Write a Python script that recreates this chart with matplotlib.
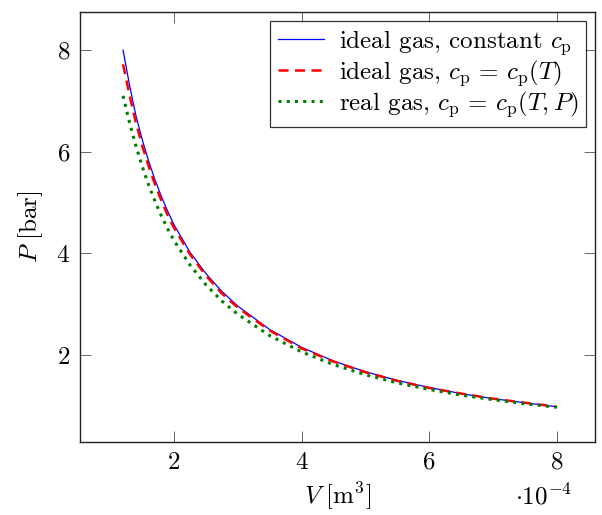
import matplotlib
matplotlib.use("Agg")
from matplotlib import pyplot as plt

plt.rcParams['mathtext.fontset'] = 'cm'
plt.rcParams['font.family'] = ['cmr10', 'DejaVu Serif']
plt.rcParams['axes.unicode_minus'] = False

# volume in units of 1e-4 m^3
V = [1.2, 1.3, 1.4, 1.5, 1.6, 1.7, 1.8, 1.9, 2.0, 2.25, 2.5, 2.75, 3.0,
     3.5, 4.0, 4.5, 5.0, 5.5, 6.0, 6.5, 7.0, 7.5, 8.0]

# pressure [bar]
P_ideal_const = [8.00, 7.32, 6.72, 6.24, 5.82, 5.45, 5.12, 4.83, 4.56, 4.02, 3.60, 3.25, 2.96,
                 2.50, 2.15, 1.88, 1.67, 1.50, 1.36, 1.24, 1.14, 1.06, 0.98]
P_ideal_T = [7.72, 7.12, 6.58, 6.12, 5.72, 5.36, 5.04, 4.75, 4.50, 3.98, 3.56, 3.21, 2.93,
             2.48, 2.13, 1.87, 1.66, 1.49, 1.35, 1.24, 1.14, 1.06, 0.98]
P_real = [7.10, 6.58, 6.12, 5.71, 5.35, 5.03, 4.74, 4.48, 4.25, 3.77, 3.38, 3.06, 2.80,
          2.38, 2.06, 1.81, 1.61, 1.45, 1.32, 1.21, 1.12, 1.04, 0.97]

labels = [r"ideal gas, constant $c_\mathrm{p}$",
          r"ideal gas, $c_\mathrm{p} \,=\, c_\mathrm{p}(T)$",
          r"real gas, $c_\mathrm{p} \,=\, c_\mathrm{p}(T,P)$"]
xticks = [2, 4, 6, 8]
yticks = [2, 4, 6, 8]

FS = 18

fig = plt.figure(figsize=(6.02, 5.15), dpi=100)
ax = fig.add_axes([80/602, 1-442/515, (595-80)/602, (442-12)/515])

ax.plot(V, P_ideal_const, color='blue', lw=0.9, label=labels[0])
ax.plot(V, P_ideal_T, color='red', lw=1.8, dashes=(4, 2.6), label=labels[1])
ax.plot(V, P_real, color='#008000', lw=2.2, dashes=(1, 1.7), label=labels[2])

ax.set_xlim(0.525, 8.6)
ax.set_ylim(0.287, 8.75)
ax.set_xticks(xticks)
ax.set_yticks(yticks)
ax.set_xticklabels([f"${t}$" for t in xticks], fontsize=FS)
ax.set_yticklabels([f"${t}$" for t in yticks], fontsize=FS)
ax.tick_params(direction='in', length=8, width=0.7, color='#666666',
               top=True, right=True, pad=7)

for s in ax.spines.values():
    s.set_linewidth(1.0)
    s.set_color('#222222')

ax.set_xlabel(r"$V\ [\mathrm{m}^3]$", fontsize=FS, labelpad=5)
ax.set_ylabel(r"$P\ [\mathrm{bar}]$", fontsize=FS, labelpad=8)
fig.text(543/602, 1-497/515, r"$\cdot 10^{-4}$", fontsize=FS, ha='center', va='center')

leg = ax.legend(loc='upper right', fontsize=FS, frameon=True, fancybox=False,
                borderaxespad=0.36, handlelength=1.85, handletextpad=0.6,
                labelspacing=0.05, borderpad=0.3)
leg.get_frame().set_edgecolor('black')
leg.get_frame().set_linewidth(0.9)

fig.savefig("out.png", dpi=100)
